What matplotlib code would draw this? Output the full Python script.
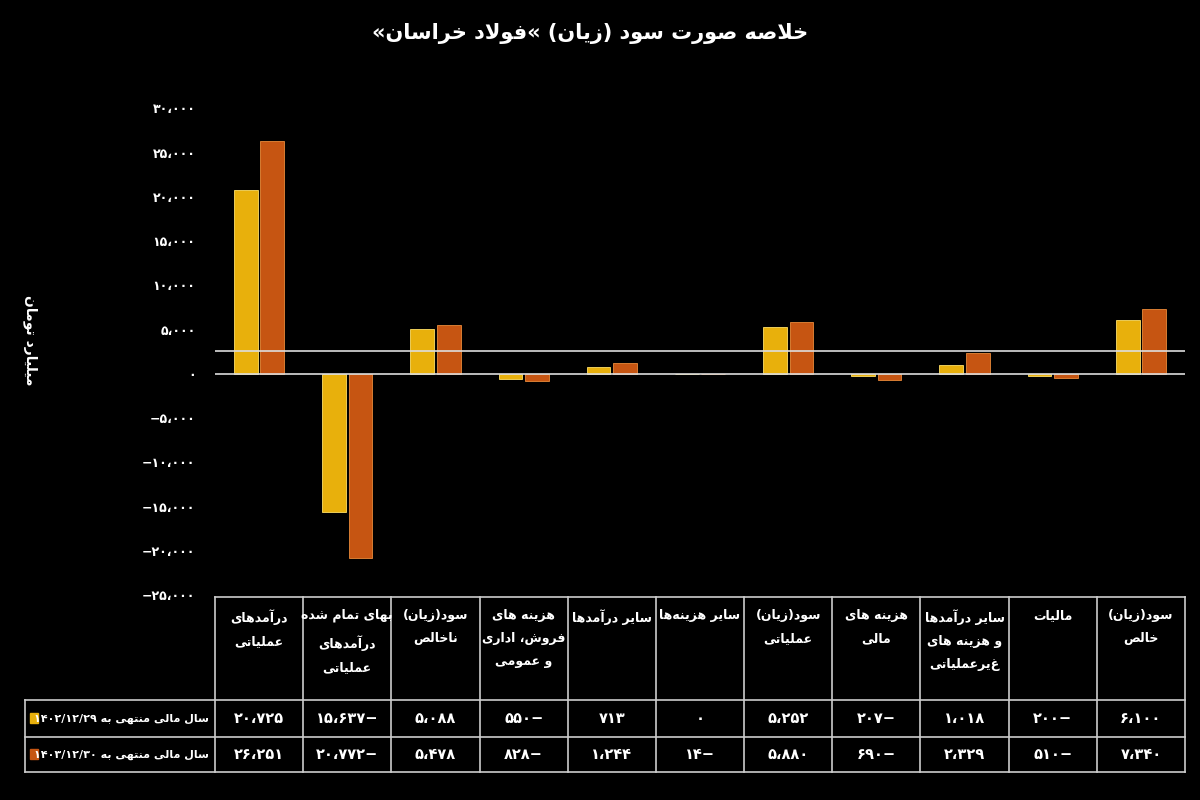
import matplotlib
matplotlib.use('Agg')
import matplotlib.pyplot as plt
import numpy as np

# ---- data (billion toman) ----
categories = ['درآمدهای\nعملیاتی', 'بهای تمام شده\nدرآمدهای\nعملیاتی', 'سود(زیان)\nناخالص',
              'هزینه های\nفروش، اداری\nو عمومی', 'سایر درآمدها', 'سایر هزینه‌ها',
              'سود(زیان)\nعملیاتی', 'هزینه های\nمالی', 'سایر درآمدها\nو هزینه های\nغیرعملیاتی',
              'مالیات', 'سود(زیان)\nخالص']
fy1402 = [20725, -15637, 5088, -550, 713, 0, 5252, -207, 1018, -200, 6100]
fy1403 = [26251, -20772, 5478, -828, 1244, -14, 5880, -690, 2329, -510, 7340]
row_labels = ['سال مالی منتهی به ۱۴۰۲/۱۲/۲۹', 'سال مالی منتهی به ۱۴۰۳/۱۲/۳۰']
yticks = [30000, 25000, 20000, 15000, 10000, 5000, 0, -5000, -10000, -15000, -20000, -25000]

GOLD = '#E8B00C'
ORANGE = '#C65512'

# ---- minimal Persian shaping (matplotlib has no bidi/shaping) ----
# letter: (isolated, final, initial, medial) ; right-joining letters have only 2 forms
FORMS = {
    'ا': (0xFE8D, 0xFE8E), 'آ': (0xFE81, 0xFE82), 'د': (0xFEA9, 0xFEAA), 'ذ': (0xFEAB, 0xFEAC),
    'ر': (0xFEAD, 0xFEAE), 'ز': (0xFEAF, 0xFEB0), 'ژ': (0xFB8A, 0xFB8B), 'و': (0xFEED, 0xFEEE),
    'ب': (0xFE8F, 0xFE90, 0xFE91, 0xFE92), 'ت': (0xFE95, 0xFE96, 0xFE97, 0xFE98),
    'ج': (0xFE9D, 0xFE9E, 0xFE9F, 0xFEA0), 'ح': (0xFEA1, 0xFEA2, 0xFEA3, 0xFEA4),
    'خ': (0xFEA5, 0xFEA6, 0xFEA7, 0xFEA8), 'س': (0xFEB1, 0xFEB2, 0xFEB3, 0xFEB4),
    'ش': (0xFEB5, 0xFEB6, 0xFEB7, 0xFEB8), 'ص': (0xFEB9, 0xFEBA, 0xFEBB, 0xFEBC),
    'ع': (0xFEC9, 0xFECA, 0xFECB, 0xFECC), 'ف': (0xFED1, 0xFED2, 0xFED3, 0xFED4),
    'ق': (0xFED5, 0xFED6, 0xFED7, 0xFED8), 'ک': (0xFB8E, 0xFB8F, 0xFB90, 0xFB91),
    'گ': (0xFB92, 0xFB93, 0xFB94, 0xFB95), 'ل': (0xFEDD, 0xFEDE, 0xFEDF, 0xFEE0),
    'م': (0xFEE1, 0xFEE2, 0xFEE3, 0xFEE4), 'ن': (0xFEE5, 0xFEE6, 0xFEE7, 0xFEE8),
    'ه': (0xFEE9, 0xFEEA, 0xFEEB, 0xFEEC), 'ی': (0xFBFC, 0xFBFD, 0xFBFE, 0xFBFF),
    'پ': (0xFB56, 0xFB57, 0xFB58, 0xFB59), 'چ': (0xFB7A, 0xFB7B, 0xFB7C, 0xFB7D),
}
MIRROR = {'(': ')', ')': '('}


def shape_word(s):
    out = []
    chars = list(s)
    n = len(chars)
    i = 0
    while i < n:
        c = chars[i]
        if c not in FORMS:
            out.append(c)
            i += 1
            continue
        prev = chars[i - 1] if i > 0 else None
        join_prev = prev in FORMS and len(FORMS[prev]) == 4
        # lam-alef ligature
        if c == 'ل' and i + 1 < n and chars[i + 1] == 'ا':
            out.append(chr(0xFEFC if join_prev else 0xFEFB))
            i += 2
            continue
        nxt = chars[i + 1] if i + 1 < n else None
        f = FORMS[c]
        join_next = len(f) == 4 and nxt in FORMS
        if join_prev and join_next:
            out.append(chr(f[3]))
        elif join_prev:
            out.append(chr(f[1]))
        elif join_next:
            out.append(chr(f[2]))
        else:
            out.append(chr(f[0]))
        i += 1
    return ''.join(out)


def is_ltr(c):
    return c.isdigit() or c in '/،,.-−'


def fa(text):
    lines = []
    for line in text.split('\n'):
        shaped = shape_word(line)
        runs = []
        for c in shaped:
            ltr = is_ltr(c)
            if runs and runs[-1][0] == ltr:
                runs[-1][1].append(c)
            else:
                runs.append([ltr, [c]])
        vis = []
        for ltr, cs in reversed(runs):
            if ltr:
                vis.append(''.join(cs))
            else:
                vis.append(''.join(MIRROR.get(c, c) for c in reversed(cs)))
        lines.append(''.join(vis))
    return '\n'.join(lines)


FA_DIGITS = str.maketrans('0123456789,', '۰۱۲۳۴۵۶۷۸۹،')


def fa_num(v, minus_right=True):
    s = '{:,}'.format(abs(v)).translate(FA_DIGITS)
    if v < 0:
        return s + '−' if minus_right else '−' + s
    return s


plt.rcParams['font.family'] = ['DejaVu Sans']
plt.rcParams['font.weight'] = 'bold'

fig = plt.figure(figsize=(12, 8), dpi=100, facecolor='black')
ax = fig.add_axes([215 / 1200, 1 - 595 / 800, 970 / 1200, 500 / 800], facecolor='black')

x = np.arange(len(categories))
ax.bar(x - 0.15, fy1402, 0.27, color=GOLD, edgecolor='#FFE066', linewidth=0.6)
ax.bar(x + 0.15, fy1403, 0.27, color=ORANGE, edgecolor='#E98A3A', linewidth=0.6)
ax.axhline(0, color='#DDDDDD', lw=1.2)
ax.axhline(2600, color='#DDDDDD', lw=1.2)

ax.set_xlim(-0.5, len(categories) - 0.5)
ax.set_ylim(-25000, 31500)
ax.set_yticks(yticks)
ax.set_yticklabels([fa_num(v, minus_right=False) for v in yticks], color='white', fontsize=9)
ax.set_xticks([])
ax.tick_params(axis='y', length=0, pad=14)
for sp in ax.spines.values():
    sp.set_visible(False)

fig.text(590 / 1200, 1 - 33 / 800, fa('خلاصه صورت سود (زیان) «فولاد خراسان«'),
         color='white', fontsize=15, fontweight='bold', ha='center', va='center')
fig.text(30 / 1200, 1 - 340 / 800, fa('میلیارد تومان'), color='white', fontsize=10,
         rotation=270, ha='center', va='center')

# ---- table drawn in pixel space ----
tab = fig.add_axes([0, 0, 1, 1], facecolor='none')
tab.set_xlim(0, 1200)
tab.set_ylim(800, 0)
tab.axis('off')
col_edges = np.linspace(215, 1185, len(categories) + 1)
top, hdr, r1, r2 = 597, 700, 737, 772
lc = '#CCCCCC'
for xe in col_edges:
    tab.plot([xe, xe], [top, r2], color=lc, lw=1.2)
tab.plot([215, 1185], [top, top], color=lc, lw=1.2)
for ye in (hdr, r1, r2):
    tab.plot([25, 1185], [ye, ye], color=lc, lw=1.2)
tab.plot([25, 25], [hdr, r2], color=lc, lw=1.2)

for i, cat in enumerate(categories):
    cx = (col_edges[i] + col_edges[i + 1]) / 2
    tab.text(cx, top + 12, fa(cat), color='white', fontsize=9, ha='center', va='top',
             linespacing=2.0)
    tab.text(cx, (hdr + r1) / 2, fa_num(fy1402[i]), color='white', fontsize=10.5,
             ha='center', va='center')
    tab.text(cx, (r1 + r2) / 2, fa_num(fy1403[i]), color='white', fontsize=10.5,
             ha='center', va='center')

for lbl, yc, colr in ((row_labels[0], (hdr + r1) / 2, GOLD), (row_labels[1], (r1 + r2) / 2, ORANGE)):
    tab.add_patch(plt.Rectangle((30, yc - 6), 8, 10, color=colr))
    tab.text(209, yc, fa(lbl), color='white', fontsize=8, ha='right', va='center')

fig.savefig('out.png', dpi=100, facecolor='black')
